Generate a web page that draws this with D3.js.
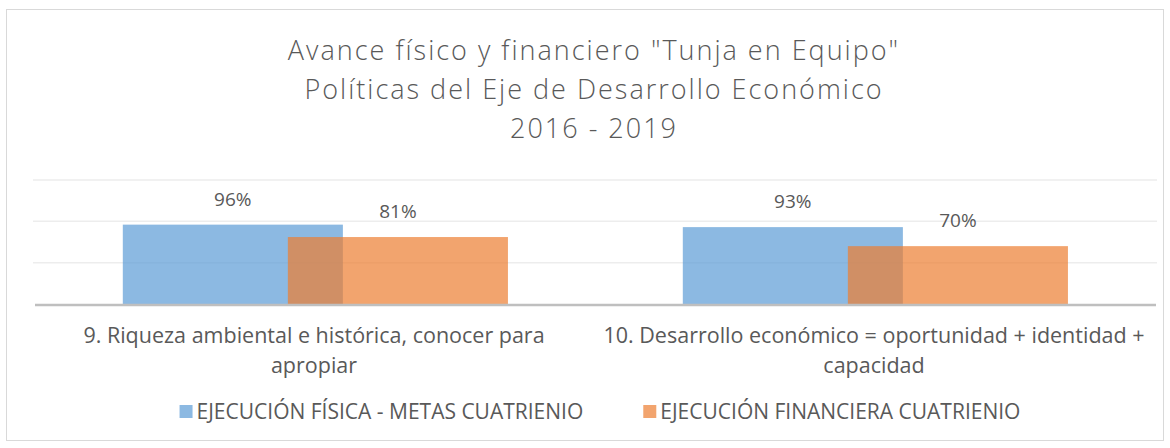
<!DOCTYPE html>
<html lang="es">
<head>
  <meta charset="UTF-8">
  <title>Avance físico y financiero "Tunja en Equipo"</title>
  <style>
    html, body {
      margin: 0;
      padding: 0;
      background: white;
    }
    svg text {
      font-family: "Open Sans", "Noto Sans", sans-serif;
      fill: #595959;
    }
  </style>
</head>
<body>
  <script src="https://d3js.org/d3.v7.min.js"></script>
  <script>
    // Data
    const categories = [
      ['9. Riqueza ambiental e histórica, conocer para', 'apropiar'],
      ['10. Desarrollo económico = oportunidad + identidad +', 'capacidad']
    ];
    const seriesNames = ['EJECUCIÓN FÍSICA - METAS CUATRIENIO', 'EJECUCIÓN FINANCIERA CUATRIENIO'];
    const fisica = [0.96, 0.93];
    const financiera = [0.81, 0.70];
    const gridTicks = [0.5, 1.0, 1.5];
    const titleLines = ['Avance físico y financiero "Tunja en Equipo"', 'Políticas del Eje de Desarrollo Económico', '2016 - 2019'];

    const width = 1170;
    const height = 448;
    const colors = ['#5B9BD5', '#ED7D31'];

    const svg = d3.select('body')
      .append('svg')
      .attr('width', width)
      .attr('height', height);

    // chart border
    svg.append('rect')
      .attr('x', 6.5)
      .attr('y', 9.5)
      .attr('width', 1157)
      .attr('height', 431)
      .attr('fill', 'white')
      .attr('stroke', '#D9D9D9')
      .attr('stroke-width', 1);

    // title
    svg.append('g').selectAll('text')
      .data(titleLines)
      .enter()
      .append('text')
      .attr('x', 594)
      .attr('y', (d, i) => 60 + i * 39)
      .attr('text-anchor', 'middle')
      .style('font-size', '27px')
      .style('font-weight', 300)
      .style('letter-spacing', '2px')
      .text(d => d);

    // scales
    const x = d3.scaleBand()
      .domain(categories.map((d, i) => i))
      .range([36, 1156]);
    const y = d3.scaleLinear()
      .domain([0, 1.5])
      .range([304, 180]);

    // gridlines
    svg.append('g').selectAll('line')
      .data(gridTicks)
      .enter()
      .append('line')
      .attr('x1', 33)
      .attr('x2', 1157)
      .attr('y1', d => y(d))
      .attr('y2', d => y(d))
      .attr('stroke', '#EDEDED')
      .attr('stroke-width', 1.5);

    const bw = x.bandwidth();
    const barW = bw * 0.393;
    const start = bw * 0.155;
    const shift = barW * 0.75;

    const series = [fisica, financiera];
    series.forEach((vals, s) => {
      const g = svg.append('g');
      g.selectAll('rect')
        .data(vals)
        .enter()
        .append('rect')
        .attr('x', (d, i) => x(i) + start + s * shift)
        .attr('y', d => y(d))
        .attr('width', barW)
        .attr('height', d => y(0) - y(d))
        .attr('fill', colors[s])
        .attr('fill-opacity', 0.7);
    });

    // data labels
    series.forEach((vals, s) => {
      svg.append('g').selectAll('text')
        .data(vals)
        .enter()
        .append('text')
        .attr('x', (d, i) => x(i) + start + s * shift + barW / 2)
        .attr('y', d => y(d) - 19)
        .attr('text-anchor', 'middle')
        .style('font-size', '19px')
        .text(d => Math.round(d * 100) + '%');
    });

    // category axis
    svg.append('line')
      .attr('x1', 35)
      .attr('x2', 1156)
      .attr('y1', y(0) + 1)
      .attr('y2', y(0) + 1)
      .attr('stroke', '#BFBFBF')
      .attr('stroke-width', 2.5);

    categories.forEach((lines, i) => {
      const cx = x(i) + bw / 2 - 2;
      svg.append('text')
        .attr('text-anchor', 'middle')
        .style('font-size', '21.5px')
        .selectAll('tspan')
        .data(lines)
        .enter()
        .append('tspan')
        .attr('x', cx)
        .attr('y', (d, j) => 343 + j * 30)
        .text(d => d);
    });

    // legend, centred under the chart
    const legend = svg.append('g');
    const gap = 60;
    let lx = 0;
    seriesNames.forEach((name, i) => {
      const lg = legend.append('g').attr('transform', `translate(${lx},0)`);
      lg.append('rect')
        .attr('y', -14)
        .attr('width', 13)
        .attr('height', 13)
        .attr('fill', colors[i])
        .attr('fill-opacity', 0.7);
      const t = lg.append('text')
        .attr('x', 17)
        .attr('y', 0)
        .style('font-size', '21px')
        .text(name);
      lx += 17 + t.node().getComputedTextLength() + gap;
    });
    const legendW = lx - gap;
    legend.attr('transform', `translate(${600 - legendW / 2},419)`);
  </script>
</body>
</html>
